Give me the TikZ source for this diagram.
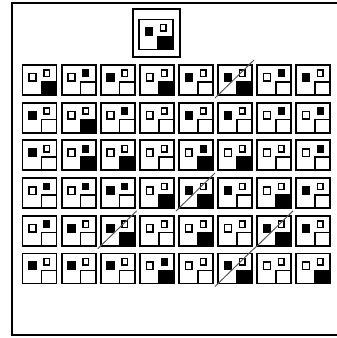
\documentclass[tikz,border=0pt]{standalone}
\usepackage{tikz}
\tikzset{
  cellframe/.style={draw=black, line width=1.9pt},
  part/.style={draw=black, line width=1.5pt},
  frameline/.style={draw=black, line width=2pt},
  slash/.style={draw=black!65, line width=1pt},
}
\newcommand\figcell[5]{%
  \begin{scope}[shift={(#1,#2)}]
    \draw[part, fill=#3] (6.5,8.7) rectangle (13.3,16.2);
    \draw[part, fill=#4] (21.5,5.2) rectangle (27,11.5);
    \draw[part, fill=#5] (19,16.8) rectangle (34,30);
    \draw[cellframe] (0,0) rectangle (34,30);
  \end{scope}}
\newcommand\figslash[2]{%
  \begin{scope}[shift={(#1,#2)}]
    \draw[slash] (-3,33) -- (36,-5);
  \end{scope}}
\newcommand\gridrow[2]{%
  \foreach \a/\b/\c [count=\i from 0] in {#2} {
    \pgfmathsetmacro\cx{22.5+39.1*\i}
    \pgfmathsetmacro\cy{65+37.7*#1}
    \figcell{\cx}{\cy}{\a}{\b}{\c}
  }}
\begin{document}
\begin{tikzpicture}[x=1pt, y=-1pt]
  \useasboundingbox (0,0) rectangle (337,338);
  \clip (0,0) rectangle (337,338);
  \fill[white] (0,0) rectangle (337,338);
  % outer frame (right side runs off the picture)
  \draw[frameline] (345,3) -- (12,3) -- (12,335) -- (345,335);
  % top box
  \draw[cellframe] (133,9) rectangle (180,57);
  \figcell{139}{19.5}{black}{white}{black}
  % grid
  \gridrow{0}{white/white/black, white/black/white, black/white/white, white/white/black, black/white/white, black/white/black, white/black/white, black/white/white}
  \gridrow{1}{black/white/white, white/white/black, white/black/white, white/white/white, black/white/white, black/white/white, white/black/white, white/black/white}
  \gridrow{2}{black/white/white, white/black/black, white/white/black, white/white/white, white/black/black, white/white/black, white/white/white, white/black/white}
  \gridrow{3}{white/black/white, white/black/white, black/black/white, white/white/black, black/white/black, black/white/white, white/white/black, black/white/white}
  \gridrow{4}{white/black/white, black/white/white, black/white/black, white/white/white, white/white/black, white/white/white, black/white/black, black/white/white}
  \gridrow{5}{black/white/white, black/white/white, black/white/white, white/black/black, white/white/white, black/white/black, white/white/white, white/white/black}
  % slashes over the black/white/black cells
  \foreach \i/\r in {5/0, 4/3, 2/4, 6/4, 5/5} {
    \pgfmathsetmacro\cx{22.5+39.1*\i}
    \pgfmathsetmacro\cy{65+37.7*\r}
    \figslash{\cx}{\cy}
  }
\end{tikzpicture}
\end{document}
